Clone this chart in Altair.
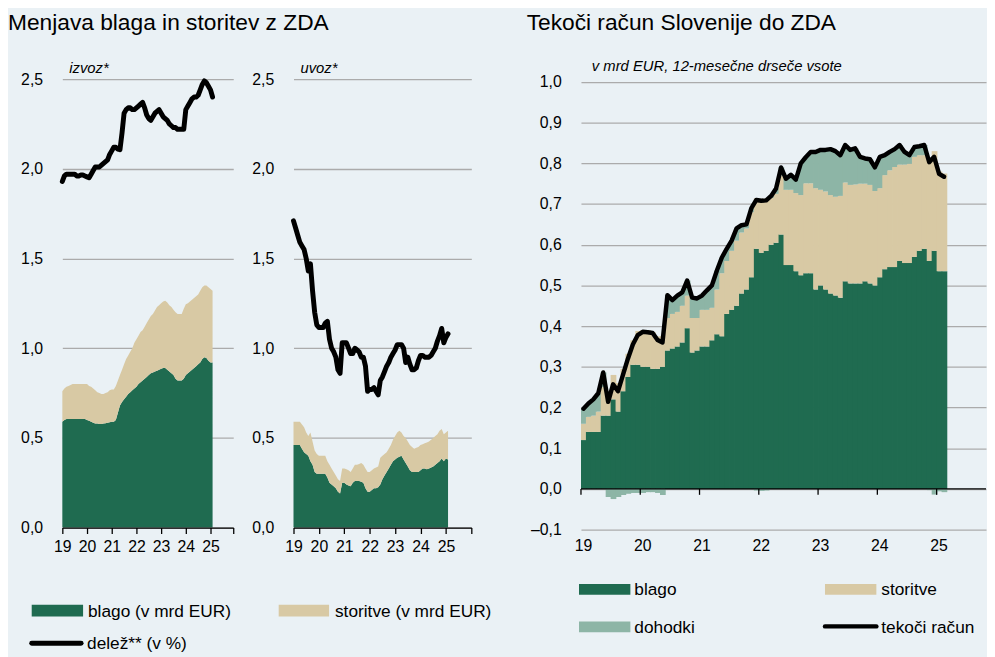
import altair as alt
import pandas as pd

# ---------------- data (monthly, January 2019 - February 2025) ----------------
START_YEAR = 2019
N_MONTHS = 74

izvoz_blago = [
    0.59, 0.60, 0.605, 0.605, 0.605, 0.605, 0.605, 0.605, 0.605, 0.605, 0.605, 0.605,
    0.60, 0.595, 0.59, 0.585, 0.58, 0.58, 0.578, 0.578, 0.58, 0.582, 0.585, 0.587,
    0.59, 0.59, 0.60, 0.64, 0.68, 0.70, 0.715, 0.73, 0.745, 0.755, 0.765, 0.775,
    0.785, 0.80, 0.81, 0.82, 0.83, 0.84, 0.85, 0.86, 0.865, 0.87, 0.875, 0.88,
    0.885, 0.89, 0.89, 0.88, 0.87, 0.86, 0.85, 0.83, 0.82, 0.82, 0.82, 0.83,
    0.85, 0.86, 0.87, 0.88, 0.89, 0.90, 0.91, 0.92, 0.94, 0.95, 0.945, 0.93,
    0.92, 0.92]
izvoz_storitve = [
    0.17, 0.175, 0.18, 0.185, 0.19, 0.195, 0.195, 0.195, 0.195, 0.195, 0.195, 0.195,
    0.20, 0.195, 0.195, 0.19, 0.185, 0.175, 0.172, 0.167, 0.165, 0.168, 0.17, 0.178,
    0.18, 0.18, 0.19, 0.18, 0.17, 0.18, 0.195, 0.21, 0.215, 0.225, 0.235, 0.255,
    0.265, 0.27, 0.28, 0.28, 0.29, 0.30, 0.31, 0.32, 0.325, 0.34, 0.355, 0.36,
    0.365, 0.37, 0.375, 0.375, 0.37, 0.37, 0.365, 0.37, 0.37, 0.37, 0.37, 0.39,
    0.395, 0.39, 0.39, 0.39, 0.39, 0.39, 0.39, 0.40, 0.40, 0.40, 0.405, 0.41,
    0.41, 0.40]
izvoz_delez = [
    1.93, 1.96, 1.97, 1.97, 1.97, 1.97, 1.97, 1.96, 1.96, 1.965, 1.965, 1.96,
    1.955, 1.95, 1.97, 1.99, 2.01, 2.01, 2.01, 2.02, 2.03, 2.04, 2.05, 2.08,
    2.10, 2.12, 2.12, 2.11, 2.106, 2.20, 2.31, 2.33, 2.34, 2.34, 2.33, 2.33,
    2.34, 2.35, 2.36, 2.37, 2.34, 2.30, 2.28, 2.27, 2.29, 2.31, 2.32, 2.33,
    2.31, 2.29, 2.28, 2.27, 2.25, 2.24, 2.23, 2.23, 2.22, 2.22, 2.22, 2.22,
    2.33, 2.35, 2.37, 2.39, 2.40, 2.40, 2.41, 2.44, 2.47, 2.49, 2.48, 2.46,
    2.44, 2.40]

uvoz_blago = [
    0.46, 0.46, 0.46, 0.46, 0.44, 0.42, 0.41, 0.40, 0.37, 0.35, 0.31, 0.30,
    0.30, 0.30, 0.30, 0.30, 0.28, 0.25, 0.24, 0.23, 0.22, 0.20, 0.19, 0.25,
    0.25, 0.24, 0.235, 0.23, 0.25, 0.26, 0.26, 0.26, 0.255, 0.25, 0.22, 0.20,
    0.20, 0.21, 0.22, 0.22, 0.225, 0.24, 0.27, 0.29, 0.31, 0.33, 0.35, 0.37,
    0.38, 0.39, 0.395, 0.40, 0.38, 0.36, 0.34, 0.32, 0.31, 0.31, 0.31, 0.31,
    0.32, 0.33, 0.33, 0.325, 0.33, 0.335, 0.34, 0.35, 0.36, 0.37, 0.385, 0.37,
    0.385, 0.38]
uvoz_storitve = [
    0.13, 0.13, 0.13, 0.13, 0.135, 0.14, 0.12, 0.11, 0.16, 0.13, 0.12, 0.11,
    0.10, 0.10, 0.10, 0.10, 0.09, 0.10, 0.09, 0.08, 0.07, 0.07, 0.07, 0.08,
    0.08, 0.085, 0.085, 0.08, 0.08, 0.09, 0.09, 0.095, 0.105, 0.10, 0.11, 0.11,
    0.11, 0.11, 0.11, 0.115, 0.115, 0.15, 0.13, 0.12, 0.11, 0.11, 0.11, 0.12,
    0.13, 0.14, 0.145, 0.13, 0.13, 0.14, 0.14, 0.14, 0.14, 0.13, 0.135, 0.14,
    0.14, 0.135, 0.14, 0.15, 0.15, 0.155, 0.16, 0.16, 0.16, 0.17, 0.165, 0.15,
    0.145, 0.16]
uvoz_delez = [
    1.71, 1.67, 1.63, 1.59, 1.57, 1.55, 1.50, 1.43, 1.47, 1.32, 1.20, 1.13,
    1.115, 1.115, 1.115, 1.14, 1.15, 1.05, 1.00, 0.98, 0.95, 0.88, 0.86, 1.03,
    1.03, 1.03, 1.00, 0.97, 0.97, 1.00, 0.99, 0.98, 0.95, 0.95, 0.90, 0.76,
    0.77, 0.77, 0.78, 0.76, 0.74, 0.82, 0.84, 0.87, 0.90, 0.92, 0.95, 0.97,
    0.99, 1.02, 1.02, 1.02, 1.00, 0.92, 0.95, 0.91, 0.88, 0.88, 0.89, 0.93,
    0.96, 0.96, 0.95, 0.95, 0.95, 0.96, 0.98, 1.00, 1.04, 1.07, 1.11, 1.03,
    1.06, 1.08]

tr_blago = [
    0.12, 0.14, 0.14, 0.14, 0.18, 0.18, 0.22, 0.19, 0.24, 0.275, 0.305, 0.305,
    0.30, 0.30, 0.295, 0.295, 0.30, 0.34, 0.345, 0.35, 0.36, 0.395, 0.335, 0.34,
    0.35, 0.35, 0.365, 0.38, 0.375, 0.43, 0.44, 0.45, 0.48, 0.49, 0.52, 0.59,
    0.58, 0.585, 0.60, 0.605, 0.625, 0.55, 0.55, 0.535, 0.525, 0.53, 0.53, 0.49,
    0.50, 0.49, 0.48, 0.475, 0.47, 0.51, 0.505, 0.505, 0.505, 0.51, 0.505, 0.50,
    0.52, 0.54, 0.545, 0.545, 0.56, 0.555, 0.555, 0.57, 0.585, 0.59, 0.56, 0.585,
    0.535, 0.535]
tr_storitve = [
    0.04, 0.037, 0.04, 0.05, 0.07, 0.05, 0.06, 0.07, 0.055, 0.057, 0.06, 0.083,
    0.09, 0.09, 0.09, 0.08, 0.075, 0.08, 0.085, 0.085, 0.09, 0.08, 0.085, 0.08,
    0.09, 0.09, 0.08, 0.11, 0.155, 0.13, 0.145, 0.16, 0.15, 0.15, 0.16, 0.124,
    0.133, 0.128, 0.115, 0.12, 0.145, 0.185, 0.185, 0.192, 0.197, 0.221, 0.221, 0.249,
    0.235, 0.241, 0.242, 0.243, 0.25, 0.243, 0.242, 0.243, 0.245, 0.24, 0.242, 0.232,
    0.219, 0.231, 0.238, 0.246, 0.237, 0.242, 0.244, 0.246, 0.235, 0.23, 0.247, 0.245,
    0.245, 0.24]
tr_dohodki = [
    0.037, 0.033, 0.04, 0.045, 0.036, -0.02, -0.025, -0.02, -0.015, -0.012, -0.01, -0.01,
    -0.01, -0.008, -0.008, -0.01, -0.015, 0.056, 0.034, 0.04, 0.033, 0.037, 0.05, 0.048,
    0.035, 0.048, 0.055, 0.046, 0.038, 0.03, 0.025, 0.03, 0.018, 0.01, 0.01, -0.004,
    -0.005, -0.004, 0.005, 0.013, 0.02, 0.027, 0.037, 0.033, 0.078, 0.064, 0.077, 0.089,
    0.098, 0.102, 0.113, 0.112, 0.10, 0.092, 0.086, 0.089, 0.066, 0.062, 0.063, 0.058,
    0.077, 0.049, 0.045, 0.044, 0.048, 0.031, 0.021, 0.024, 0.022, 0.025, -0.003, -0.014,
    -0.006, -0.008]
tr_tekoci = [
    0.197, 0.21, 0.22, 0.235, 0.286, 0.214, 0.257, 0.24, 0.28, 0.32, 0.355, 0.378,
    0.386, 0.385, 0.383, 0.366, 0.36, 0.476, 0.464, 0.475, 0.483, 0.512, 0.47, 0.468,
    0.475, 0.488, 0.50, 0.536, 0.568, 0.59, 0.61, 0.64, 0.648, 0.65, 0.69, 0.71,
    0.708, 0.709, 0.72, 0.738, 0.79, 0.762, 0.772, 0.76, 0.80, 0.815, 0.828, 0.828,
    0.833, 0.833, 0.835, 0.83, 0.82, 0.845, 0.833, 0.837, 0.816, 0.812, 0.81, 0.79,
    0.816, 0.82, 0.828, 0.835, 0.845, 0.828, 0.82, 0.84, 0.842, 0.845, 0.803, 0.816,
    0.774, 0.767]

year_ticks = [2019, 2020, 2021, 2022, 2023, 2024, 2025]
left_y_ticks = [0.0, 0.5, 1.0, 1.5, 2.0, 2.5]
right_y_ticks = [-0.1, 0.0, 0.1, 0.2, 0.3, 0.4, 0.5, 0.6, 0.7, 0.8, 0.9, 1.0]
left_series = ["blago (v mrd EUR)", "storitve (v mrd EUR)"]
left_line_name = "delež** (v %)"
right_series = ["blago", "storitve", "dohodki"]
right_line_name = "tekoči račun"

# ---------------- styling ----------------
BG = "#eaf1f5"
GREEN = "#1f6b50"
BEIGE = "#d8c9a4"
TEAL = "#8db5a6"
GRID = "#ababab"
FONT = "Liberation Sans"

month_start = [START_YEAR + k / 12 for k in range(N_MONTHS)]
month_end = [START_YEAR + (k + 1) / 12 for k in range(N_MONTHS)]
month_mid = [START_YEAR + (k + 0.5) / 12 for k in range(N_MONTHS)]

dec_expr = ("replace(replace(replace(format(datum.value, '.1f'), '.', ','), "
            "'\u2212', '\u2013'), '-', '\u2013')")
year_expr = "datum.value > 2025.5 ? '' : format(datum.value - 2000, 'd')"

one = pd.DataFrame({"a": [0]})


def text_at(x, y, txt, size, style="normal", baseline="middle"):
    return alt.Chart(pd.DataFrame({"t": [txt]})).mark_text(
        align="left", baseline=baseline, font=FONT, fontSize=size,
        fontStyle=style, color="black").encode(
        x=alt.value(x), y=alt.value(y), text="t:N")


def swatch(x, yc, w, h, color):
    return alt.Chart(one).mark_rect(color=color).encode(
        x=alt.value(x), x2=alt.value(x + w),
        y=alt.value(yc - h / 2), y2=alt.value(yc + h / 2))


def line_key(x, yc, w, width):
    return alt.Chart(one).mark_rule(color="black", strokeWidth=width, strokeCap="round").encode(
        x=alt.value(x), x2=alt.value(x + w), y=alt.value(yc))


def spacer(w, h):
    return alt.Chart(one).mark_rule(opacity=0).encode(
        x=alt.value(0), y=alt.value(0), y2=alt.value(1)).properties(width=w, height=h)


def trade_panel(blago, storitve, delez, x_end, x_ticks):
    rows = []
    for k in range(N_MONTHS):
        rows.append({"t": month_start[k], "serija": left_series[0], "v": blago[k], "o": 0})
        rows.append({"t": month_start[k], "serija": left_series[1], "v": storitve[k], "o": 1})
    area_df = pd.DataFrame(rows)
    line_df = pd.DataFrame({"t": month_start, "d": delez})
    xscale = alt.Scale(domain=[START_YEAR, x_end], nice=False, zero=False)
    yscale = alt.Scale(domain=[0, 2.5], nice=False)
    xaxis = alt.Axis(
        values=x_ticks, labelExpr=year_expr, title=None, grid=False,
        domainColor="black", domainWidth=1.3, tickColor="black", tickWidth=1.3,
        tickSize=6, labelPadding=5, labelOverlap=False, labelFlush=False,
        labelBound=False, zindex=1)
    yaxis = alt.Axis(
        values=left_y_ticks, labelExpr=dec_expr, title=None, grid=True,
        gridColor=GRID, gridWidth=1.3, ticks=False, tickSize=0, domain=False,
        labelPadding=20, labelOverlap=False)
    areas = alt.Chart(area_df).mark_area().encode(
        x=alt.X("t:Q", scale=xscale, axis=xaxis),
        y=alt.Y("v:Q", stack="zero", scale=yscale, axis=yaxis),
        color=alt.Color("serija:N", scale=alt.Scale(domain=left_series, range=[GREEN, BEIGE]),
                        legend=None),
        order=alt.Order("o:Q"),
    )
    line = alt.Chart(line_df).mark_line(
        color="black", strokeWidth=5, strokeJoin="round", strokeCap="round").encode(
        x=alt.X("t:Q", scale=xscale, axis=xaxis),
        y=alt.Y("d:Q", scale=yscale, axis=yaxis))
    return [areas, line]


LEFT_W, LEFT_H = 173, 454
UVOZ_W = 180
RIGHT_W, RIGHT_H = 410, 456

izvoz = alt.layer(
    *trade_panel(izvoz_blago, izvoz_storitve, izvoz_delez, 2025.92, year_ticks + [2025.92]),
    text_at(-55, -68, "Menjava blaga in storitev z ZDA", 23, baseline="top"),
    text_at(7, -6, "izvoz*", 15, style="italic", baseline="alphabetic"),
    swatch(-31, 538, 52, 12, GREEN),
    text_at(26, 539, left_series[0], 17.5),
    swatch(219, 538, 51, 12, BEIGE),
    text_at(276, 539, left_series[1], 17.5),
    line_key(-31, 571, 50, 5),
    text_at(25, 572, left_line_name, 17.5),
).properties(width=LEFT_W, height=LEFT_H)

uvoz = alt.layer(
    *trade_panel(uvoz_blago, uvoz_storitve, uvoz_delez, 2026, year_ticks + [2026]),
    text_at(7, -6, "uvoz*", 15, style="italic", baseline="alphabetic"),
).properties(width=UVOZ_W, height=LEFT_H)

# ---------------- right panel ----------------
rows = []
for k in range(N_MONTHS):
    for o, vals in enumerate([tr_blago, tr_storitve, tr_dohodki]):
        rows.append({"x0": month_start[k], "x1": month_end[k],
                     "serija": right_series[o], "v": vals[k], "o": o})
bar_df = pd.DataFrame(rows)

rx = alt.Scale(domain=[START_YEAR, START_YEAR + RIGHT_W / 60], nice=False, zero=False)
ry = alt.Scale(domain=[-0.1, 1.007], nice=False, zero=False)
rcol = alt.Scale(domain=right_series, range=[GREEN, BEIGE, TEAL])
rxaxis = alt.Axis(
    values=year_ticks, labelExpr=year_expr, title=None, grid=False, domain=False,
    ticks=False, tickSize=0, labelPadding=8, labelOverlap=False, labelFlush=False,
    labelBound=False, labelOffset=2)
ryaxis = alt.Axis(
    values=right_y_ticks, labelExpr=dec_expr, title=None, grid=True, gridColor=GRID,
    gridWidth=1.3, ticks=False, tickSize=0, domain=False, labelPadding=20,
    labelOverlap=False)

bars = alt.Chart(bar_df).transform_stack(
    stack="v", groupby=["x0"], as_=["y0", "y1"],
    sort=[alt.SortField("o", order="ascending")], offset="zero",
).mark_bar(x2Offset=0.8, strokeWidth=0).encode(
    x=alt.X("x0:Q", scale=rx, axis=rxaxis),
    x2="x1:Q",
    y=alt.Y("y0:Q", scale=ry, axis=ryaxis),
    y2="y1:Q",
    color=alt.Color("serija:N", scale=rcol, legend=None),
)

zero_line = alt.Chart(pd.DataFrame({"y": [0.0]})).mark_rule(color="black", strokeWidth=1.3).encode(
    y=alt.Y("y:Q", scale=ry, axis=ryaxis), x=alt.value(0), x2=alt.value(RIGHT_W))

year_tick_marks = alt.Chart(pd.DataFrame({"t": year_ticks})).mark_rule(
    color="black", strokeWidth=1.3).encode(
    x=alt.X("t:Q", scale=rx, axis=rxaxis),
    y=alt.YDatum(0, axis=ryaxis), y2=alt.Y2Datum(-0.0146))

tr_line = alt.Chart(pd.DataFrame({"t": month_mid, "v": tr_tekoci})).mark_line(
    color="black", strokeWidth=4.5, strokeJoin="round", strokeCap="round").encode(
    x=alt.X("t:Q", scale=rx, axis=rxaxis), y=alt.Y("v:Q", scale=ry, axis=ryaxis))

right = alt.layer(
    bars, zero_line, year_tick_marks, tr_line,
    text_at(-55, -68, "Tekoči račun Slovenije do ZDA", 23, baseline="top"),
    text_at(11, -8, "v mrd EUR, 12-mesečne drseče vsote", 15, style="italic",
            baseline="alphabetic"),
    swatch(-2, 516.5, 52, 11, GREEN),
    text_at(54, 517.5, right_series[0], 17.5),
    swatch(247, 516.5, 52, 11, BEIGE),
    text_at(304, 517.5, right_series[1], 17.5),
    swatch(-2, 554.5, 52, 11, TEAL),
    text_at(54, 555.5, right_series[2], 17.5),
    line_key(247, 554, 52, 4.5),
    text_at(304, 555.5, right_line_name, 17.5),
).properties(width=RIGHT_W, height=RIGHT_H)

chart = alt.hconcat(
    izvoz, spacer(61, LEFT_H), uvoz, spacer(111, LEFT_H), right,
    spacing=0, bounds="flush",
).resolve_scale(
    color="independent"
).properties(
    padding=0, background=BG
).configure_view(stroke=None).configure_axis(
    labelFont=FONT, labelFontSize=16, labelColor="black"
)

chart.save("out.html", embed_options={"renderer": "svg", "actions": False})
